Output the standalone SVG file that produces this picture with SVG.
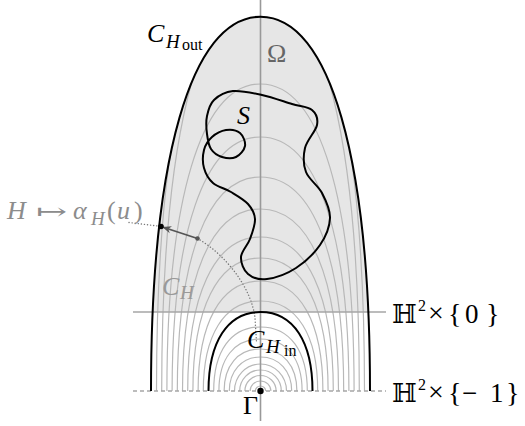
<svg xmlns="http://www.w3.org/2000/svg" width="525" height="426" viewBox="0 0 525 426">
<style>
.m{font-family:"Liberation Serif","DejaVu Serif",serif;font-size:26px}
.it{font-style:italic}
.sub{font-size:19px}
.ss{font-size:16px}
.bb{font-family:"DejaVu Serif","DejaVu Sans",serif;font-size:26px}
.gc{fill:none;stroke:#b8b8b8;stroke-width:1.2}
.blk{fill:none;stroke:#000;stroke-width:2}
.dot{fill:none;stroke:#777;stroke-width:1.4;stroke-linecap:round;stroke-dasharray:0.1 3}
</style>
<defs>
<clipPath id="inOut"><path d="M151,391 C151,161 190.5,16.7 260.5,16.7 C330.5,16.7 370,161 370,391 Z"/></clipPath>
<clipPath id="upper"><rect x="0" y="0" width="525" height="312"/></clipPath>
<marker id="ah" viewBox="0 0 10 10" refX="8" refY="5" markerWidth="5" markerHeight="5" orient="auto" markerUnits="strokeWidth"><path d="M0,1 L10,5 L0,9 L3,5 Z" fill="#555"/></marker>
</defs>

<g id="omega-region">
<path d="M151,391 C151,161 190.5,16.7 260.5,16.7 C330.5,16.7 370,161 370,391 Z" fill="#e6e6e6" clip-path="url(#upper)"/>
</g>

<g id="family-C_H" clip-path="url(#inOut)">
<path class="gc" d="M255.3,391 A5.2 5 0 0 1 265.7,391"/>
<path class="gc" d="M250.1,391 A10.4 10 0 0 1 270.9,391"/>
<path class="gc" d="M244.9,391 A15.6 15.5 0 0 1 276.1,391"/>
<path class="gc" d="M239.7,391 A20.8 21 0 0 1 281.3,391"/>
<path class="gc" d="M234.5,391 A26 27 0 0 1 286.5,391"/>
<path class="gc" d="M229.3,391 C229.3,371.3 241.8,357 260.5,357 C279.2,357 291.7,371.3 291.7,391"/>
<path class="gc" d="M224.1,391 C224.1,365.8 237.9,349 260.5,349 C283.1,349 296.9,365.8 296.9,391"/>
<path class="gc" d="M218.9,391 C218.9,359 233.9,339 260.5,339 C287.1,339 302.1,359 302.1,391"/>
<path class="gc" d="M213.7,391 C213.7,351.6 230.6,327 260.5,327 C290.4,327 307.3,351.6 307.3,391"/>
<path class="gc" d="M203.3,391 C203.3,335.6 223.9,301 260.5,301 C297.1,301 317.7,335.6 317.7,391"/>
<path class="gc" d="M198.1,391 C198.1,323.3 220.6,281 260.5,281 C300.4,281 322.9,323.3 322.9,391"/>
<path class="gc" d="M192.9,391 C192.9,309.2 217.3,258 260.5,258 C303.7,258 328.1,309.2 328.1,391"/>
<path class="gc" d="M187.7,391 C187.7,296.3 214,237 260.5,237 C307,237 333.3,296.3 333.3,391"/>
<path class="gc" d="M182.5,391 C182.5,279.1 210.7,209 260.5,209 C310.3,209 338.5,279.1 338.5,391"/>
<path class="gc" d="M177.3,391 C177.3,259.4 207.3,177 260.5,177 C313.7,177 343.7,259.4 343.7,391"/>
<path class="gc" d="M172.1,391 C172.1,234.8 204,137 260.5,137 C317,137 348.9,234.8 348.9,391"/>
<path class="gc" d="M166.9,391 C166.9,202.2 200.7,84 260.5,84 C320.3,84 354.1,202.2 354.1,391"/>
<path class="gc" d="M161.7,391 C161.7,145 197.4,-9 260.5,-9 C323.6,-9 359.3,145 359.3,391"/>
<path class="gc" d="M156.5,391 C156.5,130 194,-29 260.5,-29 C327,-29 364.5,130 364.5,391"/>
</g>

<g id="axes">
<line x1="260.5" y1="0" x2="260.5" y2="421" stroke="#999" stroke-width="1.6"/>
<line x1="133" y1="312" x2="386" y2="312" stroke="#a6a6a6" stroke-width="1.6"/>
<line x1="133" y1="391" x2="386" y2="391" stroke="#a6a6a6" stroke-width="1.4" stroke-dasharray="4 3"/>
</g>

<g id="connectors">
<path class="dot" d="M129,222.5 L158,226"/>
<path class="dot" d="M197.5,238.5 C228,256 252,290 255,318 L256.5,342"/>
<line x1="197.5" y1="238.5" x2="164" y2="227.5" stroke="#555" stroke-width="1.8" marker-end="url(#ah)"/>
</g>

<g id="C_Hout">
<path class="blk" d="M151,391 C151,161 190.5,16.7 260.5,16.7 C330.5,16.7 370,161 370,391"/>
</g>
<g id="C_Hin">
<path class="blk" d="M208.5,391 C208.5,342.4 227.3,312 260.5,312 C293.7,312 312.5,342.4 312.5,391"/>
</g>

<g id="S">
<path class="blk" d="M233,91 C241,90.2 252.2,92.8 262,95 C271.8,97.2 283.7,101.5 292,104 C300.3,106.5 307.8,106.5 312,110 C316.2,113.5 318.2,118.7 317,125 C315.8,131.3 306.8,140.2 305,148 C303.2,155.8 303.2,164.5 306,172 C308.8,179.5 318,185.3 322,193 C326,200.7 330.3,209.3 330,218 C329.7,226.7 325.7,236.7 320,245 C314.3,253.3 304.8,262.3 296,268 C287.2,273.7 275,278 267,279 C259,280 252.3,277.7 248,274 C243.7,270.3 240.7,262.8 241,257 C241.3,251.2 247.7,245.3 250,239 C252.3,232.7 255.3,224.8 255,219 C254.7,213.2 252,208.5 248,204 C244,199.5 236.8,195.5 231,192 C225.2,188.5 217.5,187 213,183 C208.5,179 205.5,173.5 204,168 C202.5,162.5 202.7,155.2 204,150 C205.3,144.8 208.3,140.3 212,137 C215.7,133.7 221.3,130.7 226,130 C230.7,129.3 236.8,130.3 240,133 C243.2,135.7 245.7,142 245,146 C244.3,150 239.8,155.2 236,157 C232.2,158.8 226.2,158.3 222,157 C217.8,155.7 213.5,152.8 211,149 C208.5,145.2 207.7,139.5 207,134 C206.3,128.5 205.8,121.7 207,116 C208.2,110.3 209.7,104.2 214,100 C218.3,95.8 225,91.8 233,91 Z"/>
</g>

<g id="points">
<circle cx="161" cy="226.5" r="2.8" fill="#000"/>
<circle cx="197.5" cy="238.5" r="2.3" fill="#555"/>
<circle cx="260.5" cy="391" r="3.2" fill="#000"/>
</g>

<g id="labels">
<text class="m it" x="147" y="42">C</text>
<text class="m it sub" x="166" y="48">H</text>
<text class="m ss" x="182" y="50">out</text>

<text class="m" x="267" y="62" fill="#666">Ω</text>
<text class="m it" x="237" y="124">S</text>

<g fill="#8c8c8c">
<text class="m it" x="7" y="219">H</text>
<text class="m" x="36" y="219" textLength="31" lengthAdjust="spacingAndGlyphs" style="font-family:'DejaVu Serif','DejaVu Sans',serif;font-size:22px">↦</text>
<text class="m it" x="73" y="219">α</text>
<text class="m it sub" x="91" y="225">H</text>
<text class="m" x="107" y="219">(</text>
<text class="m it" x="117" y="219">u</text>
<text class="m" x="134" y="219">)</text>
</g>

<g fill="#999">
<text class="m it" x="162" y="295">C</text>
<text class="m it sub" x="180" y="299">H</text>
</g>

<text class="m it" x="247" y="348">C</text>
<text class="m it sub" x="266" y="353">H</text>
<text class="m ss" x="284" y="356">in</text>

<text class="m" x="243" y="414">Γ</text>

<text class="bb" x="392" y="323">ℍ</text>
<text class="m ss" x="418" y="311">2</text>
<text class="m" x="428" y="322" style="font-size:28px">×</text>
<text class="m" x="448" y="323" style="font-size:28px">{</text>
<text class="m" x="465" y="323" style="font-size:27px">0</text>
<text class="m" x="486" y="323" style="font-size:28px">}</text>

<text class="bb" x="392" y="402">ℍ</text>
<text class="m ss" x="418" y="390">2</text>
<text class="m" x="428" y="401" style="font-size:28px">×</text>
<text class="m" x="448" y="402" style="font-size:28px">{</text>
<text class="m" x="462" y="402" style="font-size:27px">−</text>
<text class="m" x="490" y="402" style="font-size:27px">1</text>
<text class="m" x="506" y="402" style="font-size:28px">}</text>
</g>
</svg>
